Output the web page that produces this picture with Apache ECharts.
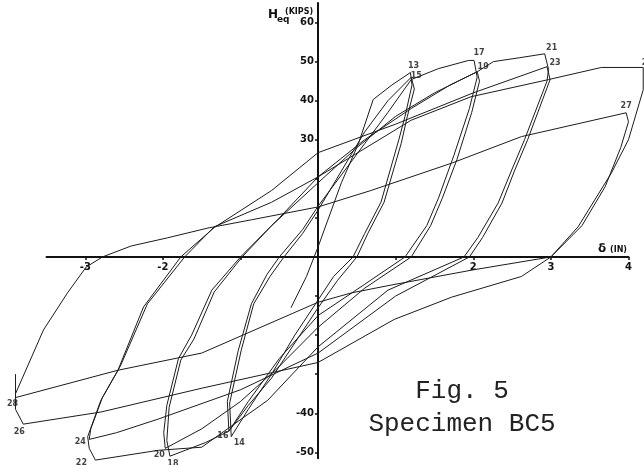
<!DOCTYPE html>
<html><head><meta charset="utf-8">
<script src="https://cdn.jsdelivr.net/npm/echarts@6/dist/echarts.min.js"></script>
<style>html,body{margin:0;padding:0;background:#fff}#c{width:644px;height:465px}</style>
</head><body><div id="c"></div>
<script>
// ---- axis ticks / labels ----
const xTickValues = [-3, -2, -1, 0, 1, 2, 3, 4];
const xTickLabels = [-3, -2, 2, 3, 4];
const yTickValues = [-50, -40, -30, -20, -10, 0, 10, 20, 30, 40, 50, 60];
const yTickLabels = [60, 50, 40, 30, -40, -50];

// ---- hysteresis branches: [deflection (in), H_eq (kips)] ----
const load0to13 = [[-0.35,-13],[-0.15,-5],[0,2.6],[0.3,19],[0.52,29],[0.71,40.3],[0.95,44],[1.19,47.2]];
const path13to14 = [[1.19,47.2],[1.21,44],[1.12,36],[1.04,30],[0.81,14],[0.6,6],[0.45,0],[0.2,-5],[0,-11],[-0.3,-20],[-0.6,-30],[-0.9,-39],[-1.12,-46]];
const path14to15 = [[-1.12,-46],[-1.14,-37.4],[-0.99,-23.8],[-0.83,-12],[-0.62,-5],[-0.44,0],[-0.2,6],[0,12],[0.3,22],[0.6,32],[0.9,40],[1.2,46]];
const path15to16 = [[1.2,46],[1.24,43],[1.15,36],[1.07,29],[0.85,14],[0.64,6],[0.5,0],[0.25,-6],[0,-13],[-0.3,-22],[-0.6,-31],[-0.9,-38],[-1.15,-44.6]];
const path16to17 = [[-1.15,-44.6],[-1.17,-37],[-1.03,-24],[-0.86,-12],[-0.66,-4.5],[-0.5,0],[-0.2,7],[0,13],[0.3,21],[0.6,29],[0.9,37],[1.2,45.4],[1.55,48.2],[1.94,50.3],[2.01,50.3]];
const path17to18 = [[2.01,50.3],[2.05,46],[1.95,38],[1.75,26],[1.55,15],[1.4,8],[1.12,0],[0.6,-7],[0,-15],[-0.5,-26],[-0.9,-37],[-1.15,-44.6],[-1.45,-47.5],[-1.91,-51]];
const path18to19 = [[-1.91,-51],[-1.95,-47],[-1.92,-38.5],[-1.77,-26.4],[-1.6,-21],[-1.34,-9],[-0.98,0],[-0.6,8],[0,19],[0.5,28],[1.0,36],[1.5,42],[2.05,47.4]];
const path19to20 = [[2.05,47.4],[2.08,45],[1.98,37],[1.79,25],[1.6,15],[1.45,8],[1.2,0],[0.6,-8],[0,-18],[-0.5,-28],[-1.0,-37],[-1.5,-44],[-1.97,-49]];
const path20to21 = [[-1.97,-49],[-1.99,-45],[-1.95,-38],[-1.8,-26],[-1.63,-20],[-1.37,-8.5],[-1.0,0],[-0.5,10],[0,20.5],[0.6,30],[1.2,38],[1.7,44],[2.05,47.4],[2.26,50],[2.6,51],[2.92,52]];
const path21to22 = [[2.92,52],[2.97,48],[2.95,45],[2.66,30],[2.49,22],[2.32,13.8],[2.06,5],[1.88,0],[0.9,-8.5],[0,-23],[-0.65,-36.7],[-1.5,-48.7],[-2.06,-49.5],[-2.87,-52]];
const path22to23 = [[-2.87,-52],[-2.95,-49],[-2.97,-46],[-2.8,-36.7],[-2.58,-29],[-2.25,-12.8],[-1.77,0],[-1.34,7.5],[-0.6,17],[0,26.7],[1.0,34],[2.0,42],[2.95,48.7]];
const path23to24 = [[2.95,48.7],[2.99,45.4],[2.7,30],[2.53,22],[2.37,13.8],[2.12,5],[1.95,0],[1.0,-10],[0,-24.6],[-1.0,-34],[-2.06,-41.5],[-2.6,-45],[-2.95,-46.7]];
const path24to25 = [[-2.95,-46.7],[-2.93,-44],[-2.78,-36],[-2.55,-28],[-2.2,-12],[-1.72,0],[-1.34,7.7],[-0.6,14],[0,20.5],[1.2,35],[1.97,41],[2.97,45.4],[3.65,48.5],[4.19,48.5]];
const path25to26 = [[4.19,48.5],[4.19,42.8],[4.0,30],[3.78,21.5],[3.35,7.7],[3.0,0],[2.62,-5],[1.72,-10.3],[0.98,-16],[0,-27],[-1.5,-33.6],[-2.8,-39.7],[-3.8,-42.8]];
const path26to27 = [[-3.8,-42.8],[-3.9,-39],[-3.9,-35],[-3.54,-18.7],[-3.23,-9.2],[-2.99,-2.6],[-2.78,0],[-2.41,2.8],[-1.94,4.9],[-1.42,7.4],[-0.86,9.5],[0,12.8],[0.68,17],[1.72,24],[2.62,30.8],[3.97,36.9]];
const path27to28 = [[3.97,36.9],[4.0,34.6],[3.9,28],[3.7,18],[3.4,8],[3.0,0],[2.0,-3.3],[0.94,-7.2],[0.43,-9.2],[0,-11.6],[-1.5,-24.6],[-2.58,-29],[-3.9,-36],[-3.9,-30]];

// ---- numbered load points: [cycle number, deflection, H_eq] ----
const peakPoints = [
  [13,1.19,47.2],[15,1.2,46],[17,2.01,50.3],[19,2.05,47.4],[21,2.92,52],[23,2.95,48.7],[25,4.19,48.5],[27,3.97,36.9],
  [14,-1.12,-46],[16,-1.15,-44.6],[18,-1.91,-51],[20,-1.97,-49],[22,-2.87,-52],[24,-2.95,-46.7],[26,-3.8,-42.8],[28,-3.9,-36]
];
// label offsets in px (styling)
const labelOffsets = {13:[3,-7],15:[5,-1],17:[5,-8],19:[6,-5],21:[7,-6],23:[8,-4],25:[4,-5],27:[0,-7],
  14:[8,6],16:[-6,5],18:[3,8],20:[-6,7],22:[-14,3],24:[-9,3],26:[-4,8],28:[-3,6]};

const branches = [load0to13,path13to14,path14to15,path15to16,path16to17,path17to18,path18to19,path19to20,
  path20to21,path21to22,path22to23,path23to24,path24to25,path25to26,path26to27,path27to28];

const chart = echarts.init(document.getElementById('c'), null, {renderer:'canvas'});
const lineColor = '#1c1c1c';
const series = branches.map(d => ({
  type:'line', xAxisIndex:0, yAxisIndex:0, data:d, showSymbol:false, clip:false, silent:true, animation:false,
  lineStyle:{color:lineColor, width:1}
}));
series.push({
  type:'scatter', xAxisIndex:0, yAxisIndex:0, symbolSize:0, clip:false, silent:true, animation:false,
  data: peakPoints.map(p => ({value:[p[1],p[2]], name:String(p[0]),
    label:{show:true, position:'inside', offset:labelOffsets[p[0]], formatter:String(p[0])}})),
  label:{show:true, color:'#111', fontSize:8, fontFamily:'DejaVu Sans', fontWeight:'bold'}
});

const axisLabelStyle = {color:'#111', fontSize:10, fontWeight:'bold', fontFamily:'DejaVu Sans'};
chart.setOption({
  backgroundColor:'#ffffff',
  animation:false,
  grid:[
    {left:0, right:0, top:3, bottom:1},            // data plane
    {left:46.5, right:15.5, top:256, bottom:208},  // horizontal axis strip
    {left:318, right:325, top:3, bottom:6.8}       // vertical axis strip
  ],
  xAxis:[
    {gridIndex:0, type:'value', min:-4.1, max:4.2, show:false},
    {gridIndex:1, type:'value', min:-3.5, max:4, position:'bottom',
      axisLine:{show:true, onZero:false, lineStyle:{color:'#111', width:2}},
      axisTick:{show:true, customValues:xTickValues, length:3, lineStyle:{color:'#111', width:1.5}},
      axisLabel:Object.assign({customValues:xTickLabels, margin:5}, axisLabelStyle),
      splitLine:{show:false}},
    {gridIndex:2, type:'value', min:0, max:1, show:false}
  ],
  yAxis:[
    {gridIndex:0, type:'value', min:-53, max:65, show:false},
    {gridIndex:1, type:'value', min:0, max:1, show:false},
    {gridIndex:2, type:'value', min:-51.5, max:65, position:'left',
      axisLine:{show:true, onZero:false, lineStyle:{color:'#111', width:2}},
      axisTick:{show:true, customValues:yTickValues, length:3, lineStyle:{color:'#111', width:1.5}},
      axisLabel:Object.assign({customValues:yTickLabels, margin:4}, axisLabelStyle),
      splitLine:{show:false}}
  ],
  series: series,
  graphic:[
    {type:'text', x:268, y:9, style:{text:'H', font:'bold 12px "DejaVu Sans"', fill:'#111'}},
    {type:'text', x:277, y:15, style:{text:'eq', font:'bold 9px "DejaVu Sans"', fill:'#111'}},
    {type:'text', x:285, y:8, style:{text:'(KIPS)', font:'bold 8px "DejaVu Sans"', fill:'#111'}},
    {type:'text', x:598, y:243, style:{text:'δ', font:'bold 12px "DejaVu Sans"', fill:'#111'}},
    {type:'text', x:610, y:246, style:{text:'(IN)', font:'bold 8px "DejaVu Sans"', fill:'#111'}},
    {type:'text', x:462, y:391, style:{text:'Fig. 5', font:'26px "Liberation Mono"', fill:'#222', textAlign:'center', textVerticalAlign:'middle'}},
    {type:'text', x:462, y:424, style:{text:'Specimen BC5', font:'26px "Liberation Mono"', fill:'#222', textAlign:'center', textVerticalAlign:'middle'}}
  ]
});
</script>
</body></html>
